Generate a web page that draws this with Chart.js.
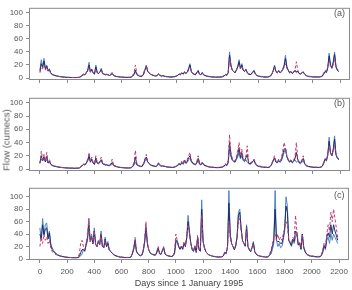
<!DOCTYPE html>
<html><head><meta charset="utf-8">
<script src="https://cdn.jsdelivr.net/npm/chart.js@4.4.1/dist/chart.umd.min.js"></script>
<style>
html,body{margin:0;padding:0;background:#fff;}
body{width:352px;height:290px;position:relative;overflow:hidden;font-family:"Liberation Sans",Arial,sans-serif;}
.box{position:absolute;left:0;width:352px;}
.plab{position:absolute;font-size:9px;color:#555;}
#ylab{position:absolute;left:6px;top:140px;transform:translate(-50%,-50%) rotate(-90deg);font-size:9.5px;color:#555;white-space:nowrap;}
</style></head><body>
<div class="box" style="top:0;height:90px"><canvas id="ca"></canvas></div>
<div class="box" style="top:90px;height:90px"><canvas id="cb"></canvas></div>
<div class="box" style="top:180px;height:110px"><canvas id="cc"></canvas></div>
<div class="plab" style="left:334px;top:8px">(a)</div>
<div class="plab" style="left:334px;top:98px">(b)</div>
<div class="plab" style="left:334px;top:190px">(c)</div>
<div id="ylab">Flow (cumecs)</div>
<script>
const days = [0,10,20,30,40,50,60,70,80,90,100,110,120,130,140,150,160,170,180,190,
200,210,220,230,240,250,260,270,280,290,300,310,320,330,340,350,360,370,380,390,
400,410,420,430,440,450,460,470,480,490,500,510,520,530,540,550,560,570,580,590,
600,610,620,630,640,650,660,670,680,690,700,710,720,730,740,750,760,770,780,790,
800,810,820,830,840,850,860,870,880,890,900,910,920,930,940,950,960,970,980,990,
1000,1010,1020,1030,1040,1050,1060,1070,1080,1090,1100,1110,1120,1130,1140,1150,1160,1170,1180,1190,
1200,1210,1220,1230,1240,1250,1260,1270,1280,1290,1300,1310,1320,1330,1340,1350,1360,1370,1380,1390,
1400,1410,1420,1430,1440,1450,1460,1470,1480,1490,1500,1510,1520,1530,1540,1550,1560,1570,1580,1590,
1600,1610,1620,1630,1640,1650,1660,1670,1680,1690,1700,1710,1720,1730,1740,1750,1760,1770,1780,1790,
1800,1810,1820,1830,1840,1850,1860,1870,1880,1890,1900,1910,1920,1930,1940,1950,1960,1970,1980,1990,
2000,2010,2020,2030,2040,2050,2060,2070,2080,2090,2100,2110,2120,2130,2140,2150,2160,2170,2180,2190];
const xTicks = [0,200,400,600,800,1000,1200,1400,1600,1800,2000,2200];
const yTicks = [0,20,40,60,80,100];

// Panel (a)
const aBlue = [12,28,18,30,15,20,12,14,8,6, 5,4,3.5,3,2.5,2,2,1.5,1.5,1.2, 1,1,1,0.8,0.8,0.7,0.7,0.7,0.8,1,
2,4,6,5,8,12,24,10,14,8, 6,20,9,7,10,15,7,6,5,6, 5,4,5,7,4,3,2.5,2,2,1.5, 1.5,1.2,1,1,1,1,1,1.5,3,5,
10,5,4,3,2.5,3,6,12,18,10, 8,6,5,4,3.5,3,4,6,4,3, 4,3,2.5,2,2,1.5,1.5,1.5,2,2,
3,4,6,5,8,6,10,7,9,15, 22,10,7,6,5,8,12,6,5,9, 5,4,3,2.5,2,2,1.5,1.5,1.5,1.2, 1.2,1.2,1.5,1.5,2,3,5,4,8,40,
20,12,10,8,12,18,28,15,22,12, 10,14,8,6,5,6,10,12,6,4, 3,2.5,2,2,1.5,1.5,1.5,1.5,2,3,
6,12,20,10,8,12,8,10,14,20, 35,18,12,8,10,7,9,12,8,10, 7,6,8,10,6,4,3,2.5,2,2,
1.5,1.5,1.5,1.5,1.5,1.5,2,3,6,10, 8,15,38,20,15,25,40,18,12,10];
const aNavy = [10,22,16,26,14,18,11,13,7,5.5, 4.5,3.8,3.2,2.8,2.4,2,1.8,1.5,1.4,1.2, 1,1,0.9,0.8,0.8,0.8,0.8,0.8,0.9,1.2,
2.5,4,5,5,8,11,20,9,13,8, 6,17,8,7,9,13,7,6,5,5.5, 5,4,5,7,4,3,2.5,2,1.8,1.5, 1.4,1.2,1,1,1,1,1,1.5,3,6,
12,6,4,3,2.5,3,6,13,19,10, 8,6,5,4,3.5,3,4,6,4,3, 3.5,3,2.5,2,2,1.6,1.6,1.6,2,2,
3,4,6,5,8,6,9,7,9,14, 20,10,7,6,5,8,11,6,5,8, 5,4,3,2.5,2.2,2,1.7,1.6,1.5,1.4, 1.4,1.4,1.6,1.8,2.2,3.5,5,4.5,8,35,
20,12,10,8,12,17,25,14,20,12, 10,13,8,6,5,6,9,11,6,4, 3,2.5,2.2,2,1.8,1.6,1.6,1.6,2,3,
6,11,18,10,8,11,8,10,13,18, 30,17,12,8,10,7,9,11,10,10, 7,6,8,9,6,4,3,2.5,2.2,2,
1.8,1.7,1.7,1.7,1.7,1.7,2.2,3,6,10, 9,16,34,20,15,24,36,18,12,10];
const aRed = [8,15,14,20,12,16,10,12,7,5, 4.5,4,3.5,3,2.5,2.2,2,1.8,1.5,1.3, 1.2,1.1,1,1,0.9,0.9,0.9,0.9,1,1.5,
3,5,6,6,9,12,16,9,12,8, 7,14,8,7,9,12,7,6,6,5, 5,5,6,9,5,3.5,3,2.5,2,2, 1.8,1.5,1.3,1.2,1.2,1.2,1.2,2,4,8,
20,7,5,4,3,3.5,8,14,20,11, 8,6,5,4.5,4,3.5,5,7,5,3.5, 3.5,3,2.5,2.5,2,2,2,2,2.5,2.5,
3.5,5,6,6,7,6,8,7,8,12, 16,9,7,6,6,9,10,6,5,7, 5,4,3.5,3,2.5,2.5,2,2,2,1.8, 1.6,1.6,1.8,2,2.5,4,6,5,9,30,
18,12,10,9,12,16,20,14,18,12, 10,12,8,7,6,7,9,10,6,4.5, 3.5,3,2.5,2.5,2,2,2,2,2.5,4,
7,10,16,10,8,10,8,9,12,16, 22,15,12,9,10,8,10,12,25,12, 8,7,8,9,6,4.5,3.5,3,2.5,2.5,
2,2,2,2,2,2,2.5,4,8,12, 10,18,25,18,16,20,30,16,14,12];

// Panel (b)
const bBlue = [10,15,12,16,11,14,9,10,7,5, 4.5,4,3.5,3,2.8,2.5,2.2,2,1.8,1.6, 1.5,1.4,1.3,1.2,1.2,1.1,1.1,1.1,1.2,1.5,
3,5,7,6,9,12,18,10,14,9, 7,15,9,8,10,12,8,7,6,6, 5,5,6,7,5,4,3.5,3,2.5,2.2, 2,1.8,1.6,1.5,1.5,1.5,1.5,2,3.5,6,
10,6,5,4,3.5,4,7,12,15,10, 8,6,5,4.5,4,3.5,5,8,5,4, 4.5,4,3.5,3,2.8,2.5,2.3,2.2,2.5,3,
4,5,7,6,9,7,11,8,10,14, 16,11,8,7,6,9,13,7,6,9, 6,5,4,3.5,3,2.8,2.5,2.3,2.2,2, 2,2,2.2,2.5,3,4,6,5,9,30,
18,13,11,10,14,18,25,15,20,13, 11,14,10,8,7,8,11,13,7,5, 4,3.5,3,2.8,2.5,2.3,2.2,2.2,2.5,4,
7,12,15,10,9,12,10,12,18,25, 30,18,13,10,12,9,11,14,10,12, 9,8,10,12,8,5,4,3.5,3,2.8,
2.5,2.4,2.3,2.2,2.2,2.2,2.5,4,8,14, 12,20,48,25,20,30,50,22,16,14];
const bNavy = [9,20,13,19,11,19,9,12,7,5.5, 4.8,4.2,3.7,3.2,2.9,2.6,2.3,2.1,1.9,1.7, 1.6,1.5,1.4,1.3,1.3,1.2,1.2,1.2,1.3,1.8,
3.5,5,7,6,9,13,20,11,15,9, 7,17,9,8,11,14,8,7,6,6.5, 5.5,5.5,7,10,5.5,4.5,3.7,3.2,2.7,2.4, 2.2,2,1.8,1.7,1.6,1.6,1.6,2.2,4,8,
18,7,5.5,4.5,3.8,4.5,8,14,18,11, 8.5,6.5,5.5,4.8,4.2,3.8,5.5,9,5.5,4.5, 4.8,4.2,3.8,3.2,3,2.8,2.5,2.4,2.8,3.2,
4.5,5.5,8,6.5,10,8,13,9,12,17, 20,12,9,7.5,6.5,10,16,8,6.5,10, 6.5,5.5,4.5,3.8,3.2,3,2.7,2.5,2.4,2.2, 2.2,2.2,2.5,2.8,3.2,4.5,7,5.5,10,40,
22,14,12,11,16,22,32,17,25,14, 12,17,22,9,8,9,12,14,8,5.5, 4.5,4,3.5,3.2,2.8,2.6,2.5,2.5,2.8,4.5,
8,13,17,11,10,13,11,14,22,30, 31,19,14,11,13,10,12,16,25,14, 10,9,12,16,9,5.5,4.5,4,3.5,3.2,
2.8,2.7,2.6,2.5,2.5,2.5,2.8,4.5,9,15, 13,21,42,25,20,29,45,22,17,14];
const bRed = [8,27,14,22,12,25,10,14,8,6, 5,4.5,4,3.5,3,2.7,2.4,2.2,2,1.8, 1.7,1.6,1.5,1.4,1.4,1.3,1.3,1.3,1.5,2,
4,6,8,7,10,15,25,12,18,10, 8,20,10,9,12,18,9,8,7,7, 6,6,8,15,6,5,4,3.5,3,2.6, 2.4,2.2,2,1.9,1.8,1.8,1.8,2.5,5,10,
28,9,6,5,4,5,9,16,22,12, 9,7,6,5,4.5,4,6,10,6,5, 5,4.5,4,3.5,3.2,3,2.8,2.6,3,3.5,
5,6,9,7,12,9,15,10,14,20, 25,13,10,8,7,11,20,9,7,11, 7,6,5,4,3.5,3.2,3,2.8,2.6,2.5, 2.5,2.5,2.8,3,3.5,5,8,6,12,52,
25,16,13,12,18,28,40,20,30,16, 13,20,35,10,9,10,13,15,9,6, 5,4.5,4,3.5,3.2,3,2.8,2.8,3,5,
9,14,20,12,11,15,12,16,28,40, 32,20,15,12,14,11,14,18,40,16, 11,10,14,20,10,6,5,4.5,4,3.5,
3.2,3,3,2.8,2.8,2.8,3.2,5,10,16, 14,22,35,24,20,28,35,22,18,15];

// Panel (c)
const cBlue = [50,30,65,40,55,58,35,45,25,18, 14,11,9,7,6,5,4.5,4,3.5,3, 2.8,2.5,2.3,2.2,2,2,2,2,2.2,3,
5,8,15,12,25,35,65,30,40,25, 50,25,20,30,25,45,20,18,35,20, 28,15,12,10,7,6,5,4,3.5,3, 2.8,2.5,2.3,2.2,2.2,2.2,2.3,3,8,15,
30,12,8,6,5,6,12,25,55,25, 15,10,8,7,6,6,10,18,8,7, 12,20,8,6,5,4.5,4,4,5,8,
25,30,20,15,20,15,25,20,35,70, 45,25,15,12,20,10,35,15,12,95, 30,18,12,9,7,6,5,4.5,4,3.5, 3.2,3,3,3.2,3.5,5,10,8,20,110,
40,25,20,15,20,35,75,80,50,30, 25,20,55,20,15,12,18,28,12,8, 6,5,4.5,4,3.5,3.2,3,3,3.5,6,
8,15,25,110,30,20,25,18,20,30, 45,100,85,30,25,20,30,25,35,40, 22,25,15,40,18,12,8,6,5,4.5,
4,3.8,3.5,3.3,3.2,3.2,3.5,5,10,20, 15,30,35,25,40,30,40,35,30,25];
const cNavy = [40,32,55,38,48,50,32,42,22,15, 12,10,8,6.5,5.5,4.8,4.3,3.8,3.4,3, 2.8,2.6,2.4,2.3,2.2,2.2,2.2,2.2,2.5,4,
10,15,15,13,22,30,55,28,36,24, 45,23,20,28,23,40,20,18,32,20, 25,15,12,10,7.5,6,5,4.2,3.7,3.2, 3,2.7,2.5,2.4,2.4,2.4,2.5,3.5,9,16,
30,13,8.5,6.5,5.5,6.5,13,27,50,26, 15,10,8.5,7.5,6.5,6.5,11,18,9,7.5, 13,18,8.5,6.5,5.5,4.8,4.2,4.2,5.5,10,
30,28,20,16,20,16,26,20,34,60, 42,25,15,13,20,11,35,15,13,80, 28,18,12,9,7,6,5.2,4.8,4.2,3.8, 3.5,3.3,3.3,3.5,3.8,5.5,11,9,20,90,
38,25,20,15,21,35,70,75,48,30, 25,21,52,20,15,12,18,26,12,8, 6.2,5.2,4.7,4.2,3.8,3.5,3.3,3.3,3.8,7,
12,20,30,80,30,28,28,25,25,35, 48,85,75,30,26,22,32,28,45,42, 23,26,16,40,19,12,8.5,6.5,5.5,5,
4.5,4.3,4,3.8,3.7,3.7,4,6,12,22, 17,35,42,35,55,40,55,45,38,30];
const cRed = [20,35,25,40,30,35,25,30,18,12, 10,8,7,6,5,4.5,4,3.5,3.2,3, 2.8,2.6,2.5,2.4,2.3,2.3,2.3,2.4,3,8,
25,30,20,15,25,35,65,28,35,25, 45,22,20,28,22,40,20,18,30,20, 22,14,12,10,8,6,5,4.5,4,3.5, 3.2,3,2.8,2.7,2.6,2.6,2.8,4,10,18,
35,14,9,7,6,7,15,30,60,28, 16,11,9,8,7,7,12,20,10,8, 14,18,9,7,6,5,4.5,4.5,6,12,
40,30,22,18,22,18,28,22,35,55, 40,25,16,14,22,12,38,16,14,70, 28,18,12,9,7,6,5.5,5,4.5,4, 3.8,3.6,3.6,3.8,4,6,12,10,20,60,
35,25,20,16,22,35,60,65,45,30, 25,22,50,20,16,13,18,25,12,8, 6.5,5.5,5,4.5,4,3.8,3.6,3.6,4,8,
15,25,35,40,30,40,30,35,30,40, 50,60,55,30,28,25,35,30,70,45, 25,28,18,40,20,13,9,7,6,5.5,
5,4.8,4.5,4.3,4.2,4.2,4.5,7,15,25, 20,40,55,45,75,60,80,65,50,35];

const BLUE = '#4a84c2', NAVY = '#1d2d6b', RED = '#c23a6e', AXIS = '#8a8a8a', TXT = '#555';
const FONT = '"Liberation Sans", Arial, sans-serif';

const boxPlugin = {id:'box', afterDraw(chart){
  const {ctx, chartArea:{left,top,right,bottom}} = chart;
  ctx.save(); ctx.strokeStyle = AXIS; ctx.lineWidth = 1;
  ctx.strokeRect(left+0.5, top+0.5, right-left-1, bottom-top-1);
  ctx.restore();
}};

function pts(vals){ return days.map((d,i)=>({x:d, y:vals[i]})); }

function makeChart(id, blue, navy, red, opts){
  new Chart(document.getElementById(id), {
    type:'line',
    data:{datasets:[
      {data:pts(red), borderColor:RED, borderWidth:1, borderDash:[3,2], pointRadius:0, tension:0},
      {data:pts(navy), borderColor:NAVY, borderWidth:1, pointRadius:0, tension:0},
      {data:pts(blue), borderColor:BLUE, borderWidth:1, pointRadius:0, tension:0}
    ]},
    options:{
      responsive:true, maintainAspectRatio:false, animation:false,
      layout:{padding:{top:opts.padTop, right:2, left:0, bottom:0}},
      plugins:{legend:{display:false}, tooltip:{enabled:false}},
      scales:{
        x:{type:'linear', min:-80, max:2273,
          afterBuildTicks:s=>{s.ticks = xTicks.map(v=>({value:v}));},
          afterFit:s=>{s.height = opts.xH;},
          grid:{display:true, drawOnChartArea:false, drawTicks:true, tickLength:3, color:AXIS},
          border:{display:false},
          ticks:{display:opts.showX, color:TXT, padding:4, maxRotation:0, autoSkip:false,
                 callback:v=>String(v), font:{family:FONT, size:8}},
          title:{display:opts.showX, text:'Days since 1 January 1995', color:'#444', padding:{top:0,bottom:1}, font:{family:FONT, size:9}}
        },
        y:{type:'linear', min:opts.yMin, max:opts.yMax,
          afterBuildTicks:s=>{s.ticks = yTicks.map(v=>({value:v}));},
          afterFit:s=>{s.width = 29;},
          grid:{display:true, drawOnChartArea:false, drawTicks:true, tickLength:3, color:AXIS},
          border:{display:false},
          ticks:{color:TXT, padding:3, callback:v=>String(v), font:{family:FONT, size:8}}
        }
      }
    },
    plugins:[boxPlugin]
  });
}

makeChart('ca', aBlue, aNavy, aRed, {padTop:6, xH:10, showX:false, yMin:-3, yMax:107.5});
makeChart('cb', bBlue, bNavy, bRed, {padTop:7, xH:9, showX:false, yMin:-3, yMax:107.5});
makeChart('cc', cBlue, cNavy, cRed, {padTop:7, xH:30, showX:true, yMin:-1.6, yMax:114.3});
</script>
</body></html>
